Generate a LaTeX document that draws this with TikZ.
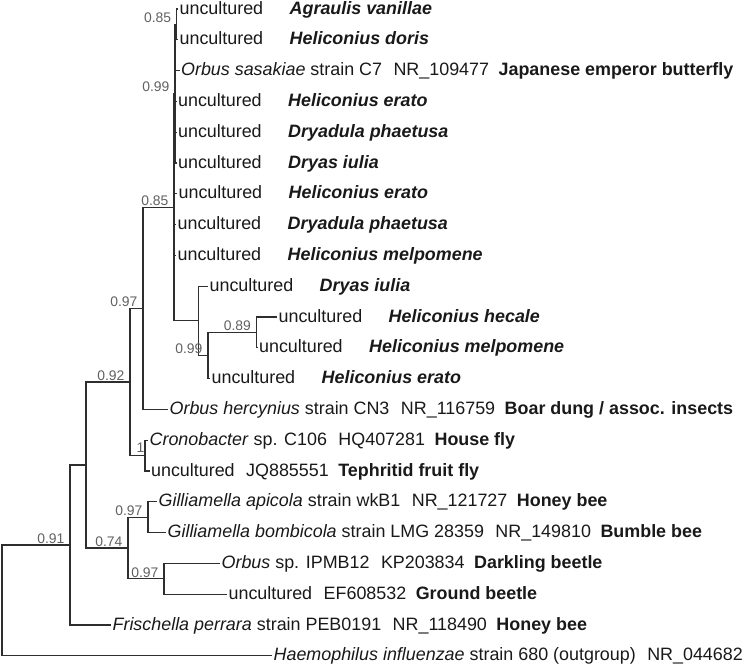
\documentclass[tikz,border=0pt]{standalone}
\usepackage{fontspec}
\setmainfont{Liberation Sans}

\newcommand{\gapA}{\hspace{11.5pt}}
\newcommand{\gapB}{\hspace{9.5pt}}
\newcommand{\unc}[1]{uncultured\hspace{26.5pt}\textbf{\textit{#1}}}

\begin{document}
\begin{tikzpicture}[x=1pt,y=-1pt,line width=1.25pt,draw=black!82]
            \tikzstyle{leaf}=[anchor=west,inner xsep=1pt,inner ysep=0pt,text height=13pt,text depth=3pt,font=\fontsize{17.9}{20}\selectfont,text=black!90]
            \tikzstyle{bs}=[anchor=south east,inner sep=0pt,font=\fontsize{13.9}{16}\selectfont,text=black!62]
            \useasboundingbox (0,0) rectangle (750,665);

            % leaves
            \node[leaf] (l0)  at (178,9)     {\unc{Agraulis vanillae}};
            \node[leaf] (l1)  at (178,39.8)  {\unc{Heliconius doris}};
            \node[leaf] (l2)  at (179.5,70.6) {\textit{Orbus sasakiae} strain C7\gapA NR\_109477\gapB\textbf{Japanese emperor butterfly}};
            \node[leaf] (l3)  at (176.5,101.4) {\unc{Heliconius erato}};
            \node[leaf] (l4)  at (176.5,132.2) {\unc{Dryadula phaetusa}};
            \node[leaf] (l5)  at (176.5,163)   {\unc{Dryas iulia}};
            \node[leaf] (l6)  at (177,193.8)   {\unc{Heliconius erato}};
            \node[leaf] (l7)  at (176,224.6)   {\unc{Dryadula phaetusa}};
            \node[leaf] (l8)  at (176,255.4)   {\unc{Heliconius melpomene}};
            \node[leaf] (l9)  at (208,286.2)   {\unc{Dryas iulia}};
            \node[leaf] (l10) at (277,317)     {\unc{Heliconius hecale}};
            \node[leaf] (l11) at (257.5,347.8) {\unc{Heliconius melpomene}};
            \node[leaf] (l12) at (210,378.6)   {\unc{Heliconius erato}};
            \node[leaf] (l13) at (168,409.4) {\textit{Orbus hercynius} strain CN3\gapA NR\_116759\gapB\textbf{Boar dung / assoc. insects}};
            \node[leaf] (l14) at (148,440.2) {\textit{Cronobacter} sp. C106\gapA HQ407281\gapB\textbf{House fly}};
            \node[leaf] (l15) at (149.5,471) {uncultured\gapA JQ885551\gapB\textbf{Tephritid fruit fly}};
            \node[leaf] (l16) at (157,501.8) {\textit{Gilliamella apicola} strain wkB1\gapA NR\_121727\gapB\textbf{Honey bee}};
            \node[leaf] (l17) at (166,532.6) {\textit{Gilliamella bombicola} strain LMG 28359\gapA NR\_149810\gapB\textbf{Bumble bee}};
            \node[leaf] (l18) at (220,563.4) {\textit{Orbus} sp. IPMB12\gapA KP203834\gapB\textbf{Darkling beetle}};
            \node[leaf] (l19) at (227,594.2) {uncultured\gapA EF608532\gapB\textbf{Ground beetle}};
            \node[leaf] (l20) at (111,625)   {\textit{Frischella perrara} strain PEB0191\gapA NR\_118490\gapB\textbf{Honey bee}};
            \node[leaf] (l21) at (272,655.8) {\textit{Haemophilus influenzae} strain 680 (outgroup)\gapA NR\_044682};

            % inner nodes
            \coordinate (nH) at (176.7,24.4);
            \coordinate (nG) at (175,93.7);
            \coordinate (nF) at (174,207.2);
            \coordinate (nK) at (256.5,332.4);
            \coordinate (nJ) at (208,355.5);
            \coordinate (nI) at (198.5,320.8);
            \coordinate (nE) at (143,308.3);
            \coordinate (nD) at (145,455.6);
            \coordinate (nC) at (130,382);
            \coordinate (nM) at (148,517.2);
            \coordinate (nN) at (164,578.8);
            \coordinate (nL) at (128,548);
            \coordinate (nB) at (86,465);
            \coordinate (nA) at (70,545);
            \coordinate (root) at (2,600.4);

            % branches
            \foreach \p/\c in {nH/l0,nH/l1,nG/nH,nG/l2,nG/l3,nG/l4,nG/l5,
                               nF/nG,nF/l6,nF/l7,nF/l8,nF/nI,
                               nK/l10,nK/l11,nJ/nK,nJ/l12,nI/l9,nI/nJ,
                               nE/nF,nE/l13,nD/l14,nD/l15,nC/nE,nC/nD,
                               nM/l16,nM/l17,nN/l18,nN/l19,nL/nM,nL/nN,
                               nB/nC,nB/nL,nA/nB,nA/l20,root/nA,root/l21}
                \draw (\p) |- (\c);

            % support values
            \node[bs] at ([xshift=-5pt,yshift=1pt]nH) {0.85};
            \node[bs] at ([xshift=-5pt,yshift=1pt]nG) {0.99};
            \node[bs] at ([xshift=-5pt,yshift=1pt]nF) {0.85};
            \node[bs] at ([xshift=-5pt,yshift=1pt]nK) {0.89};
            \node[bs] at ([xshift=-5pt,yshift=1pt]nJ) {0.99};
            \node[bs] at ([xshift=-5pt,yshift=1pt]nE) {0.97};
            \node[bs] at ([xshift=0pt,yshift=2pt]nD) {1};
            \node[bs] at ([xshift=-5pt,yshift=1pt]nC) {0.92};
            \node[bs] at ([xshift=-5pt,yshift=1pt]nM) {0.97};
            \node[bs] at ([xshift=-5pt,yshift=1pt]nN) {0.97};
            \node[bs] at ([xshift=-5pt,yshift=1pt]nL) {0.74};
            \node[bs] at ([xshift=-5pt,yshift=1pt]nA) {0.91};
\end{tikzpicture}
\end{document}
